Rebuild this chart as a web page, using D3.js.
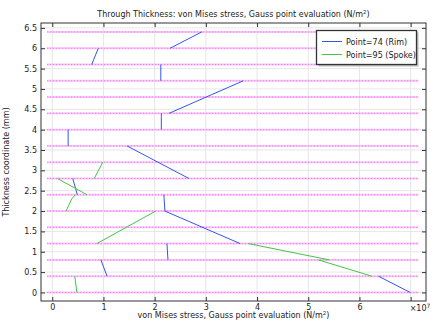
<!DOCTYPE html>
<html><head><meta charset="utf-8">
<script src="https://cdn.jsdelivr.net/npm/d3@7"></script>
<style>
html,body{margin:0;padding:0;background:#fff;}
text{font-family:"DejaVu Sans",sans-serif;fill:#222;}
</style></head>
<body>
<svg id="c" width="437" height="324"></svg>
<script>
// stress values in units of 1e7 N/m^2, thickness in mm
const xTicks = [0,1,2,3,4,5,6,7];
const xTickLabels = ["0","1","2","3","4","5","6",""];
const yTicks = [0,0.5,1,1.5,2,2.5,3,3.5,4,4.5,5,5.5,6,6.5];
const layerBoundaries = [0,0.4,0.8,1.2,1.6,2.0,2.4,2.8,3.2,3.6,4.0,4.4,4.8,5.2,5.6,6.0,6.4];
const seriesNames = ["Point=74 (Rim)","Point=95 (Spoke)"];
const seriesColors = ["#3355ee","#44c444"];
// each segment: list of [stress, thickness]
const rimSegments = [
  [[6.99,0.0],[6.37,0.4]],
  [[1.07,0.4],[0.95,0.8]],
  [[2.26,0.8],[2.24,1.2]],
  [[3.67,1.2],[2.20,2.0]],
  [[2.20,2.0],[2.18,2.4]],
  [[0.49,2.4],[0.40,2.8]],
  [[2.67,2.8],[1.46,3.6]],
  [[0.31,3.6],[0.31,4.0]],
  [[2.13,4.0],[2.13,4.4]],
  [[2.28,4.4],[3.73,5.2]],
  [[2.12,5.2],[2.12,5.6]],
  [[0.77,5.6],[0.90,6.0]],
  [[2.30,6.0],[2.92,6.4]]
];
const spokeSegments = [
  [[0.48,0.0],[0.44,0.4]],
  [[6.24,0.4],[5.20,0.8]],
  [[5.41,0.8],[3.83,1.2]],
  [[0.87,1.2],[2.02,2.0]],
  [[0.27,2.0],[0.38,2.3],[0.45,2.4]],
  [[0.68,2.4],[0.10,2.8]],
  [[0.82,2.8],[0.985,3.2]]
];

const svg = d3.select("#c");
const L=41,R=426,T=23,B=301;
const x = d3.scaleLinear().domain([-0.22,7.3]).range([L,R]);
const y = d3.scaleLinear().domain([-0.21,6.62]).range([B,T]);

// grid
const g = svg.append("g");
g.selectAll(".gx").data(xTicks).join("line")
  .attr("x1",d=>x(d)).attr("x2",d=>x(d)).attr("y1",T).attr("y2",B)
  .attr("stroke","#e6e6e6").attr("stroke-width",1);
g.selectAll(".gy").data(yTicks).join("line")
  .attr("y1",d=>y(d)).attr("y2",d=>y(d)).attr("x1",L).attr("x2",R)
  .attr("stroke","#e6e6e6").attr("stroke-width",1);

// layer boundaries
svg.append("g").selectAll("line").data(layerBoundaries).join("line")
  .attr("x1",x(-0.1)).attr("x2",x(7.15)).attr("y1",d=>y(d)).attr("y2",d=>y(d))
  .attr("stroke","#f8c4f8").attr("stroke-width",2);
svg.append("g").selectAll("line").data(layerBoundaries).join("line")
  .attr("x1",x(-0.1)).attr("x2",x(7.15)).attr("y1",d=>y(d)).attr("y2",d=>y(d))
  .attr("stroke","#f070f0").attr("stroke-width",1).attr("stroke-dasharray","1,2");

const line = d3.line().x(d=>x(d[0])).y(d=>y(d[1]));
[rimSegments, spokeSegments].forEach((segs,i)=>{
  svg.append("g").selectAll("path").data(segs).join("path")
    .attr("d",line).attr("fill","none").attr("stroke",seriesColors[i]).attr("stroke-width",1);
});

// axes (inner ticks)
const axB = d3.axisBottom(x).tickValues(xTicks).tickSize(-4).tickPadding(3).tickFormat((d,i)=>xTickLabels[i]);
const axT = d3.axisTop(x).tickValues(xTicks).tickSize(-4).tickFormat("");
const axL = d3.axisLeft(y).tickValues(yTicks).tickSize(-4).tickPadding(4).tickFormat(d3.format("~g"));
const axR = d3.axisRight(y).tickValues(yTicks).tickSize(-4).tickFormat("");
function style(gg){gg.select(".domain").remove();gg.selectAll(".tick line").attr("stroke","#333");
  gg.selectAll("text").attr("font-size",8).attr("font-family","DejaVu Sans").attr("fill","#222");}
svg.append("g").attr("transform",`translate(0,${B})`).call(axB).call(style);
svg.append("g").attr("transform",`translate(0,${T})`).call(axT).call(style);
svg.append("g").attr("transform",`translate(${L},0)`).call(axL).call(style);
svg.append("g").attr("transform",`translate(${R},0)`).call(axR).call(style);
svg.append("rect").attr("x",L).attr("y",T).attr("width",R-L).attr("height",B-T)
  .attr("fill","none").attr("stroke","#333").attr("stroke-width",1);

// exponent
const ex = svg.append("text").attr("x",x(7)-1).attr("y",B+10).attr("font-size",8);
ex.append("tspan").text("×10");
ex.append("tspan").attr("font-size",6).attr("dy",-3).text("7");

// title
const ti = svg.append("text").attr("x",(L+R)/2).attr("y",17).attr("text-anchor","middle").attr("font-size",8);
ti.append("tspan").text("Through Thickness: von Mises stress, Gauss point evaluation (N/m");
ti.append("tspan").attr("font-size",5.5).attr("dy",-3).text("2");
ti.append("tspan").attr("dy",3).text(")");

// x label
const xl = svg.append("text").attr("x",(L+R)/2).attr("y",318).attr("text-anchor","middle").attr("font-size",8);
xl.append("tspan").text("von Mises stress, Gauss point evaluation (N/m");
xl.append("tspan").attr("font-size",5.5).attr("dy",-3).text("2");
xl.append("tspan").attr("dy",3).text(")");

// y label
svg.append("text").attr("transform",`translate(9,${(T+B)/2}) rotate(-90)`).attr("text-anchor","middle")
  .attr("font-size",8).text("Thickness coordinate (mm)");

// legend
const lg = svg.append("g");
lg.append("rect").attr("x",318.5).attr("y",32.5).attr("width",100).attr("height",34).attr("fill","#bbb");
lg.append("rect").attr("x",316.5).attr("y",30.5).attr("width",100).attr("height",34)
  .attr("fill","#fff").attr("stroke","#333").attr("stroke-width",1.3);
seriesNames.forEach((n,i)=>{
  const yy = 41.5 + i*13;
  lg.append("line").attr("x1",322).attr("x2",342).attr("y1",yy).attr("y2",yy).attr("stroke",seriesColors[i]).attr("stroke-width",1);
  lg.append("text").attr("x",346).attr("y",yy+3).attr("font-size",8).text(n);
});
</script>
</body></html>
